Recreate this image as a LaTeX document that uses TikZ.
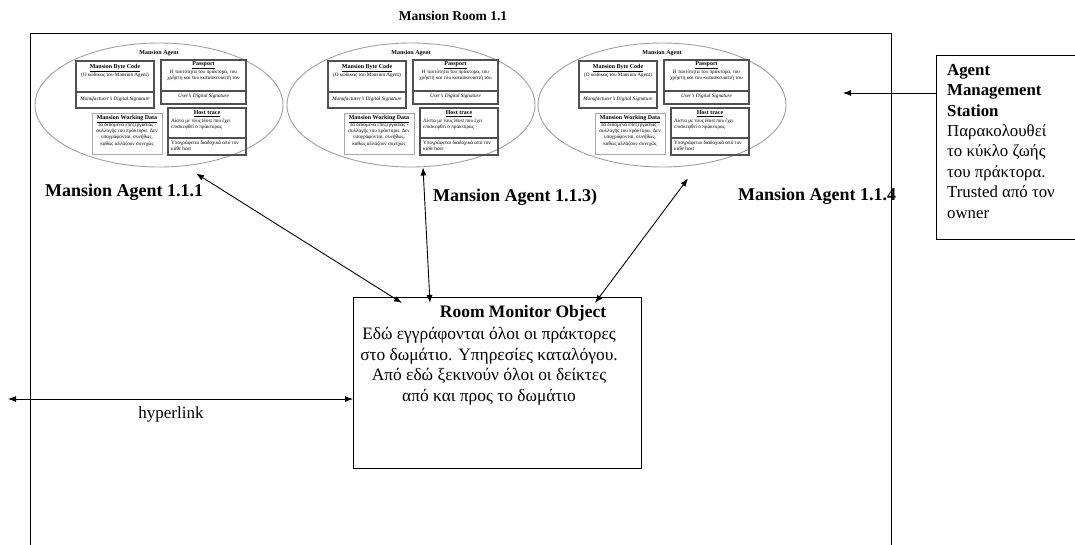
\documentclass[tikz,border=0pt]{standalone}
\usepackage{fontspec}
\setmainfont{Liberation Serif}
\usetikzlibrary{shapes.geometric,arrows.meta,calc}

\definecolor{agentgray}{HTML}{A0A0A0}
\definecolor{carddark}{HTML}{505050}
\definecolor{cardlight}{HTML}{A8A8A8}

\tikzset{
  roombox/.style={draw=black, line width=1.3pt, inner sep=0},
  plainbox/.style={draw=black, line width=1pt, inner sep=0, anchor=north west},
  agentellipse/.style={ellipse, draw=agentgray, line width=0.9pt,
    minimum width=248, minimum height=124, inner sep=0},
  cardbox/.style={draw=carddark, line width=1.1pt, inner sep=0},
  softbox/.style={draw=cardlight, line width=1pt, inner sep=0},
  divider/.style={draw=carddark, line width=1.1pt},
  tinytxt/.style={font=\fontsize{5.2}{6.2}\selectfont, inner sep=0, align=center},
  tinyleft/.style={font=\fontsize{5.2}{6.2}\selectfont, inner sep=0, align=left, anchor=west},
  tinyhead/.style={font=\fontsize{6}{7}\selectfont\bfseries, inner sep=0},
  biglabel/.style={font=\fontsize{18}{20}\selectfont\bfseries, inner sep=0, anchor=base west},
  link/.style={line width=0.9pt, {Latex[length=8pt,width=6pt]}-{Latex[length=8pt,width=6pt]}},
  oneway/.style={line width=0.9pt, -{Latex[length=8pt,width=6pt]}},
}

% One mobile agent: the ellipse with its four parts
\newcommand{\mansioncard}[2]{%
  \node[agentellipse] (#1) at (#2) {};
  \begin{scope}[shift={(#2)}]
    \node[tinyhead] (#1-head) at (0,-52) {Mansion Agent};
    % byte code
    \node[cardbox, minimum width=78, minimum height=47] (#1-code) at (-44,-20.5) {};
    \draw[divider] (-83,-13) -- (-5,-13);
    \node[tinyhead] (#1-codet) at (-44,-37) {\underline{Mansion Byte Code}};
    \node[tinytxt] (#1-codeb) at (-44,-30) {(Ο κώδικας του Mansion Agent)};
    \node[tinytxt, font=\fontsize{5.2}{6.2}\selectfont\itshape] (#1-codes) at (-44,-6) {Manufacturer's Digital Signature};
    % passport
    \node[cardbox, minimum width=85, minimum height=44] (#1-pass) at (44.5,-23) {};
    \draw[divider] (2,-14) -- (87,-14);
    \node[tinyhead] (#1-passt) at (44.5,-40) {\underline{Passport}};
    \node[tinytxt] (#1-passb) at (44.5,-29.5) {Η ταυτότητα του πράκτορα, του\\χρήστη και του κατασκευαστή του};
    \node[tinytxt, font=\fontsize{5.2}{6.2}\selectfont\itshape] (#1-passs) at (44.5,-9) {User's Digital Signature};
    % working data
    \node[softbox, minimum width=70, minimum height=41] (#1-work) at (-32,28.5) {};
    \node[tinyhead] (#1-workt) at (-32,14) {\underline{Mansion Working Data}};
    \node[tinytxt] (#1-workb) at (-32,29.5) {Τα δεδομένα επεξεργασίας -\\συλλογής του πράκτορα. Δεν\\υπογράφονται, συνήθως,\\καθώς αλλάζουν συνεχώς};
    % host trace
    \node[cardbox, minimum width=78, minimum height=47] (#1-host) at (48,26.5) {};
    \draw[divider] (9,33) -- (87,33);
    \node[tinyhead] (#1-hostt) at (48,9) {\underline{Host trace}};
    \node[tinyleft] (#1-hostb) at (12,19) {Λίστα με τους Host που έχει\\επισκεφθεί ο πράκτορας};
    \node[tinyleft] (#1-hosts) at (12,40.5) {Υπογράφεται διαδοχικά από τον\\κάθε host};
  \end{scope}
}

\begin{document}
\begin{tikzpicture}[x=1pt,y=-1pt]
\useasboundingbox (0,0) rectangle (1075,544);

% the room
\node[roombox, minimum width=861, minimum height=530, anchor=north west] (room) at (30,33) {};
\node[font=\fontsize{13.5}{15}\selectfont\bfseries, inner sep=0, anchor=base] (roomtitle) at (453,20) {Mansion Room 1.1};

% agents
\mansioncard{ag1}{159,105}
\mansioncard{ag2}{411,105}
\mansioncard{ag3}{662,105}

\node[biglabel] (lab1) at (45,196) {Mansion Agent 1.1.1};
\node[biglabel] (lab2) at (433,201) {Mansion Agent 1.1.3)};
\node[biglabel] (lab3) at (738,200) {Mansion Agent 1.1.4};

% room monitor
\node[plainbox, minimum width=288, minimum height=171] (monitor) at (353,297) {};
\node[font=\fontsize{17.5}{20}\selectfont\bfseries, anchor=base, inner sep=0] (montitle) at (523,317) {Room Monitor Object};
\node[font=\fontsize{17.4}{20.5}\selectfont, align=center, anchor=north, inner sep=0] (montext) at (489,327.5)
  {Εδώ εγγράφονται όλοι οι πράκτορες\\στο δωμάτιο. Υπηρεσίες καταλόγου.\\Από εδώ ξεκινούν όλοι οι δείκτες\\από και προς το δωμάτιο};

% agent management station
\node[plainbox, minimum width=170, minimum height=184] (ams) at (936,55) {};
\node[font=\fontsize{16.8}{20.4}\selectfont, align=left, anchor=north west, inner sep=0] (amstext) at (947,64)
  {\textbf{Agent}\\\textbf{Management}\\\textbf{Station}\\Παρακολουθεί\\το κύκλο ζωής\\του πράκτορα.\\Trusted από τον\\owner};

% connectors between agents and monitor
\coordinate (p1a) at ($(ag1.south)+(37,6)$);
\coordinate (p1b) at ($(monitor.north west)+(49,6)$);
\coordinate (p2a) at ($(ag2.south)+(12,0)$);
\coordinate (p2b) at ($(monitor.north west)+(77,6)$);
\coordinate (p3a) at ($(ag3.south)+(26,11)$);
\coordinate (p3b) at ($(monitor.north west)+(242,6)$);
\draw[link] (p1a) -- (p1b);
\draw[link] (p2a) -- (p2b);
\draw[link] (p3a) -- (p3b);

% hyperlink out of the room
\coordinate (hlfar) at (8,399);
\coordinate (hlnear) at ($(monitor.north west)+(0,102)$);
\draw[link] (hlfar) -- (hlnear);
\node[font=\fontsize{17}{20}\selectfont, anchor=base, inner sep=0] (hltext) at (171,418) {hyperlink};

% station watches the room
\coordinate (amsport) at ($(ams.north west)+(0,38)$);
\coordinate (amsfar) at (843,93);
\draw[oneway] (amsport) -- (amsfar);
\end{tikzpicture}
\end{document}
